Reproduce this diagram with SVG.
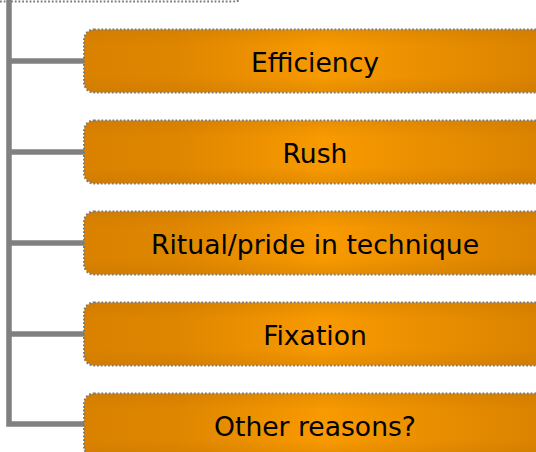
<svg xmlns="http://www.w3.org/2000/svg" width="536" height="452" viewBox="0 0 536 452">
  <style>
    .link { fill: none; stroke: #808080; stroke-width: 5.5; }
    .box { stroke: #7A7A7A; stroke-width: 2; stroke-dasharray: 1.8 1.9; }
    .shade { fill: url(#vshade); }
    .label { font-family: "DejaVu Sans", Verdana, sans-serif; font-size: 26.6px; fill: #000; text-anchor: middle; }
  </style>
  <defs>
    <linearGradient id="hfill" gradientUnits="userSpaceOnUse" x1="84" y1="0" x2="546" y2="0">
      <stop offset="0" stop-color="#DA8200"/>
      <stop offset="0.2" stop-color="#DF8600"/>
      <stop offset="0.52" stop-color="#F89A00"/>
      <stop offset="0.8" stop-color="#E68C00"/>
      <stop offset="1" stop-color="#DA8200"/>
    </linearGradient>
    <linearGradient id="vshade" x1="0" y1="0" x2="0" y2="1">
      <stop offset="0" stop-color="#B86A00" stop-opacity="0.22"/>
      <stop offset="0.25" stop-color="#B86A00" stop-opacity="0"/>
      <stop offset="0.75" stop-color="#B86A00" stop-opacity="0"/>
      <stop offset="1" stop-color="#B86A00" stop-opacity="0.25"/>
    </linearGradient>
  </defs>

  <!-- bottom edge of the parent box above -->
  <path class="box" fill="none" d="M0 1.5 H232 Q238 1.5 240 0"/>

  <!-- tree connectors -->
  <g id="connectors">
    <path class="link" d="M9 0 V424 H84"/>
    <path class="link" d="M9 61 H84"/>
    <path class="link" d="M9 152 H84"/>
    <path class="link" d="M9 243 H84"/>
    <path class="link" d="M9 334 H84"/>
  </g>

  <g id="efficiency">
    <rect class="box" x="84" y="29.5" width="470" height="63" rx="10" fill="url(#hfill)"/>
    <rect class="shade" x="85" y="30.5" width="468" height="61" rx="9"/>
    <text class="label" x="315" y="72">Efficiency</text>
  </g>

  <g id="rush">
    <rect class="box" x="84" y="120.5" width="470" height="63" rx="10" fill="url(#hfill)"/>
    <rect class="shade" x="85" y="121.5" width="468" height="61" rx="9"/>
    <text class="label" x="315" y="163">Rush</text>
  </g>

  <g id="ritual">
    <rect class="box" x="84" y="211.5" width="470" height="63" rx="10" fill="url(#hfill)"/>
    <rect class="shade" x="85" y="212.5" width="468" height="61" rx="9"/>
    <text class="label" x="315" y="254">Ritual/pride in technique</text>
  </g>

  <g id="fixation">
    <rect class="box" x="84" y="302.5" width="470" height="63" rx="10" fill="url(#hfill)"/>
    <rect class="shade" x="85" y="303.5" width="468" height="61" rx="9"/>
    <text class="label" x="315" y="345">Fixation</text>
  </g>

  <g id="other">
    <rect class="box" x="84" y="393.5" width="470" height="63" rx="10" fill="url(#hfill)"/>
    <rect class="shade" x="85" y="394.5" width="468" height="61" rx="9"/>
    <text class="label" x="315" y="436">Other reasons?</text>
  </g>
</svg>
